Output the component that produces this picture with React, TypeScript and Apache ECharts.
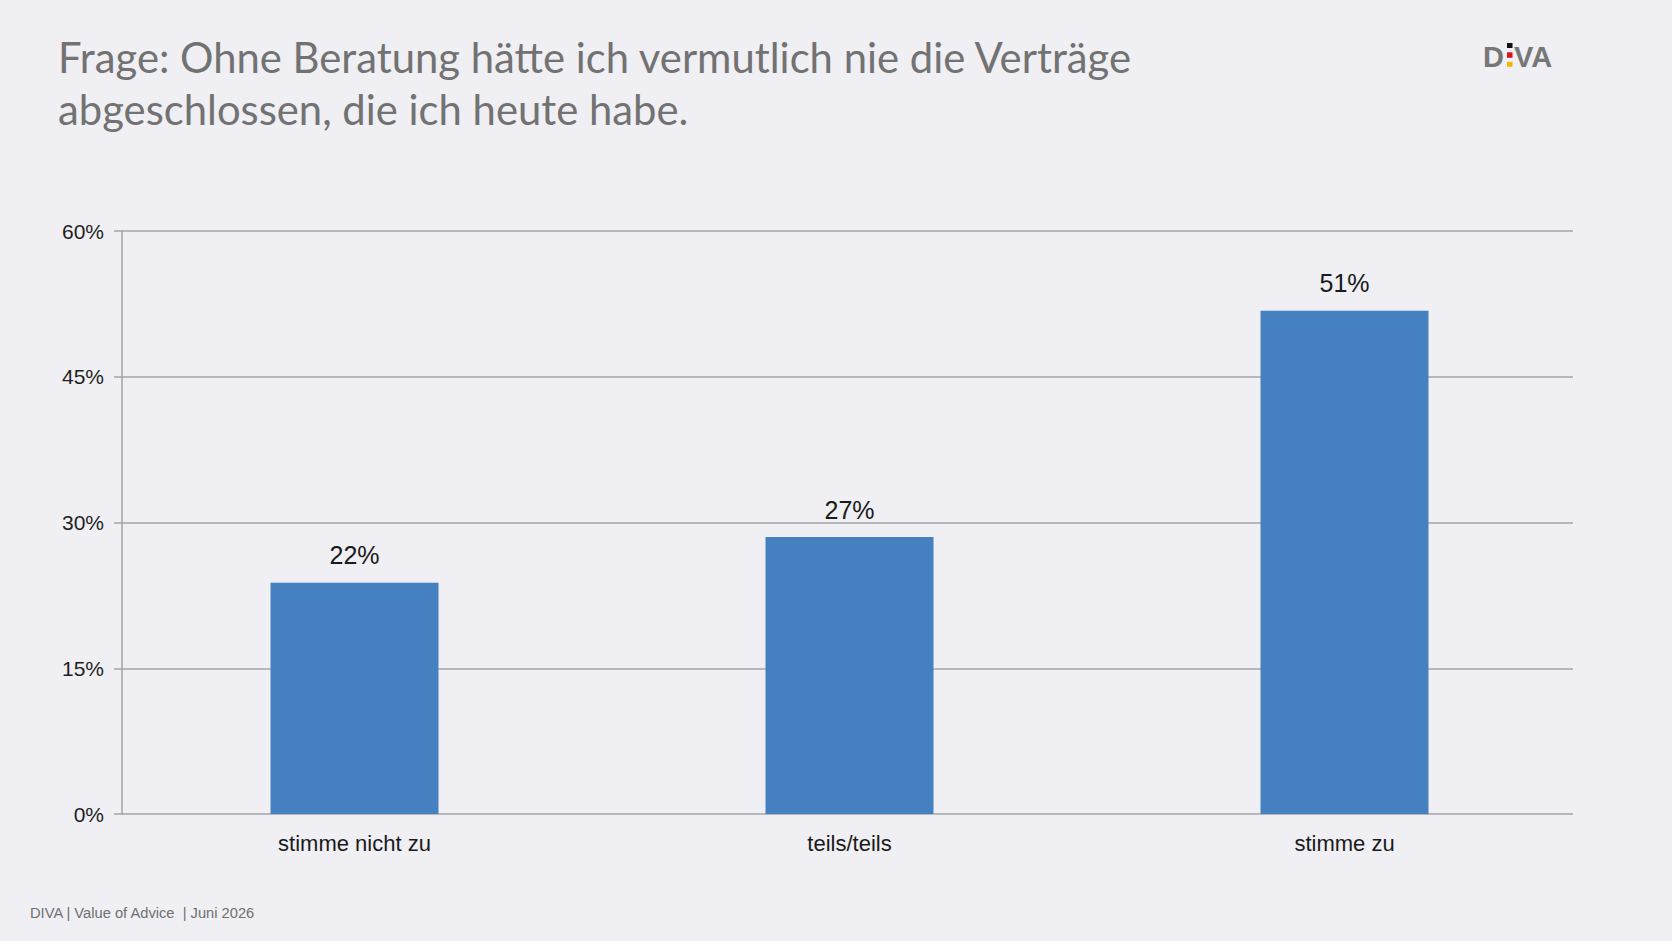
import { useEffect, useRef } from 'react';
import * as echarts from 'echarts';

// Data
const categories = ['stimme nicht zu', 'teils/teils', 'stimme zu'];
const barValues = [23.8, 28.5, 51.8]; // drawn bar heights (%)
const valueLabels = ['22%', '27%', '51%']; // printed labels
const yTicks = [0, 15, 30, 45, 60];

const titleText = 'Frage: Ohne Beratung hätte ich vermutlich nie die Verträge\nabgeschlossen, die ich heute habe.';
const footerText = 'DIVA | Value of Advice  | Juni 2026';

const BG = '#efeff4';
const BAR = '#4581c1';
const GRID_LINE = '#a4a4a8';
const SANS = '"Liberation Sans", Arial, sans-serif';

export default function App() {
  const chartRef = useRef<HTMLDivElement | null>(null);

  useEffect(() => {
    document.body.style.margin = '0';
    document.body.style.background = BG;
    if (!chartRef.current) return undefined;
    const chart = echarts.init(chartRef.current, null, { renderer: 'svg' });

    chart.setOption({
      animation: false,
      backgroundColor: BG,
      grid: [
        // axes + gridlines
        { left: 122, right: 99, top: 231, bottom: 127 },
        // bars
        { left: 107, right: 80, top: 231, bottom: 127 },
      ],
      xAxis: [
        {
          type: 'category',
          gridIndex: 0,
          data: categories,
          axisLine: { show: false },
          axisTick: { show: false },
          axisLabel: { show: false },
        },
        {
          type: 'category',
          gridIndex: 1,
          data: categories,
          axisLine: { show: false },
          axisTick: { show: false },
          axisLabel: { color: '#1a1a1a', fontSize: 22, fontFamily: SANS, margin: 18 },
        },
      ],
      yAxis: [
        {
          type: 'value',
          gridIndex: 0,
          min: yTicks[0],
          max: yTicks[yTicks.length - 1],
          interval: 15,
          axisLine: { show: true, lineStyle: { color: GRID_LINE, width: 1.5 } },
          axisTick: { show: true, length: 8, lineStyle: { color: GRID_LINE, width: 1.5 } },
          axisLabel: {
            color: '#1f1f1f',
            fontSize: 21,
            fontFamily: SANS,
            margin: 18,
            padding: [0, 0, 4, 0],
            formatter: (v: number) => `${v}%`,
          },
          splitLine: { show: true, lineStyle: { color: GRID_LINE, width: 1.5 } },
        },
        {
          type: 'value',
          gridIndex: 1,
          min: yTicks[0],
          max: yTicks[yTicks.length - 1],
          interval: 15,
          show: false,
          splitLine: { show: false },
        },
      ],
      series: [
        {
          type: 'bar',
          xAxisIndex: 1,
          yAxisIndex: 1,
          data: barValues,
          barWidth: 168,
          itemStyle: { color: BAR },
          label: {
            show: true,
            position: 'top',
            distance: 15,
            color: '#1a1a1a',
            fontSize: 25,
            fontFamily: SANS,
            formatter: (p: { dataIndex: number }) => valueLabels[p.dataIndex],
          },
        },
      ],
      graphic: [
        {
          type: 'text',
          left: 58,
          top: 31,
          style: {
            text: titleText,
            fill: '#727272',
            font: '41.8px Lato, "Open Sans", sans-serif',
            lineHeight: 52,
          },
        },
        {
          type: 'text',
          x: 30,
          y: 913,
          style: {
            text: footerText,
            fill: '#707070',
            fontSize: 14.7,
            fontFamily: SANS,
            verticalAlign: 'middle',
          },
        },
        // DIVA logo
        {
          type: 'group',
          x: 1483,
          y: 57,
          children: [
            {
              type: 'text',
              x: 0,
              y: 0,
              style: { text: 'D', fill: '#777777', fontSize: 29, fontWeight: 'bold', fontFamily: SANS, verticalAlign: 'middle' },
            },
            { type: 'rect', shape: { x: 24, y: -14, width: 5.5, height: 5 }, style: { fill: '#111111' } },
            { type: 'rect', shape: { x: 24, y: -4.7, width: 5.5, height: 5.5 }, style: { fill: '#d9141a' } },
            { type: 'rect', shape: { x: 24, y: 4.8, width: 5.5, height: 5 }, style: { fill: '#f2b705' } },
            {
              type: 'text',
              x: 31,
              y: 0,
              style: { text: 'VA', fill: '#777777', fontSize: 29, fontWeight: 'bold', fontFamily: SANS, verticalAlign: 'middle' },
            },
          ],
        },
      ],
    });

    return () => {
      chart.dispose();
    };
  }, []);

  return (
    <div
      ref={chartRef}
      style={{ position: 'fixed', left: 0, top: 0, width: 1672, height: 941, background: BG }}
    />
  );
}
